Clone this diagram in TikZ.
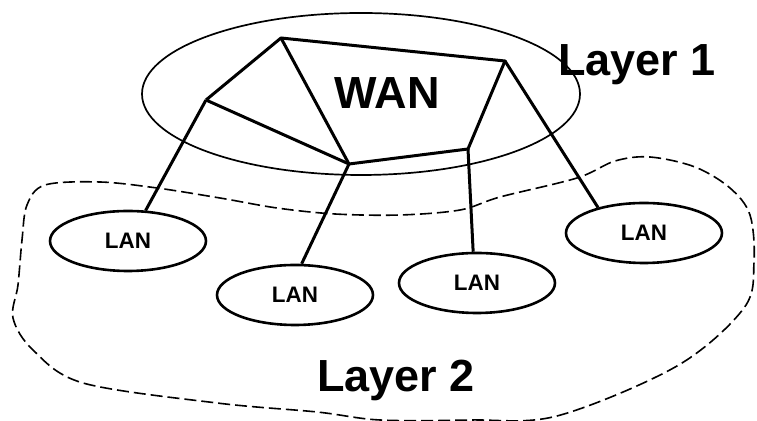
\documentclass[tikz,border=0pt]{standalone}
\usepackage{fontspec}
\setmainfont{Liberation Sans}
\usetikzlibrary{shapes.geometric}
\begin{document}
\begin{tikzpicture}[x=0.5pt,y=-0.5pt,
  link/.style={line width=1.5pt},
  lanbox/.style={draw,ellipse,line width=1.3pt,minimum width=78pt,minimum height=30pt,inner sep=0pt,font=\bfseries\fontsize{11.2}{12}\selectfont},
  bigtext/.style={font=\bfseries\fontsize{22.5}{26}\selectfont,inner sep=0pt},
  layerline/.style={line width=0.8pt,dash pattern=on 6pt off 2.5pt}]
\useasboundingbox (0,0) rectangle (757,421);
% WAN cloud
\node[draw,ellipse,line width=0.85pt,minimum width=219pt,minimum height=81pt,inner sep=0pt] (wancloud) at (361,94) {};
\node[bigtext] (wan) at (387,93) {WAN};
\node[bigtext,anchor=west] (layer1) at (558,65) {Layer 1};
\node[bigtext] (layer2) at (396,380) {Layer 2};
% Layer 2 boundary
\draw[layerline] plot[smooth cycle,tension=0.55] coordinates {
  (277,208) (335,214) (400,215) (460,210) (500,197) (577,178) (615,161)
  (650,157) (695,167) (730,188) (750,215) (754,262) (744,308) (677,366)
  (557,416) (470,420) (380,420) (317,412) (217,403) (83,383) (33,350)
  (13,318) (18,285) (22,240) (27,205) (45,185) (100,182) (157,188) (220,198)};
% routers
\coordinate (ra) at (281,38);
\coordinate (rb) at (206,100);
\coordinate (rc) at (349,164);
\coordinate (rd) at (505,61);
\coordinate (re) at (468,149);
% LANs
\node[lanbox] (lan1) at (128,241) {LAN};
\node[lanbox] (lan2) at (295,295) {LAN};
\node[lanbox] (lan3) at (477,283) {LAN};
\node[lanbox] (lan4) at (644,233) {LAN};
% WAN links
\draw[link,line join=round] (rb) -- (ra) -- (rd) -- (re) -- (rc) -- (rb);
\draw[link] (ra) -- (rc);
% access links
\draw[link] (rb) -- (lan1.60);
\draw[link] (rc) -- (lan2.78);
\draw[link] (re) -- (lan3.97);
\draw[link] (rd) -- (lan4.151);
\end{tikzpicture}
\end{document}
